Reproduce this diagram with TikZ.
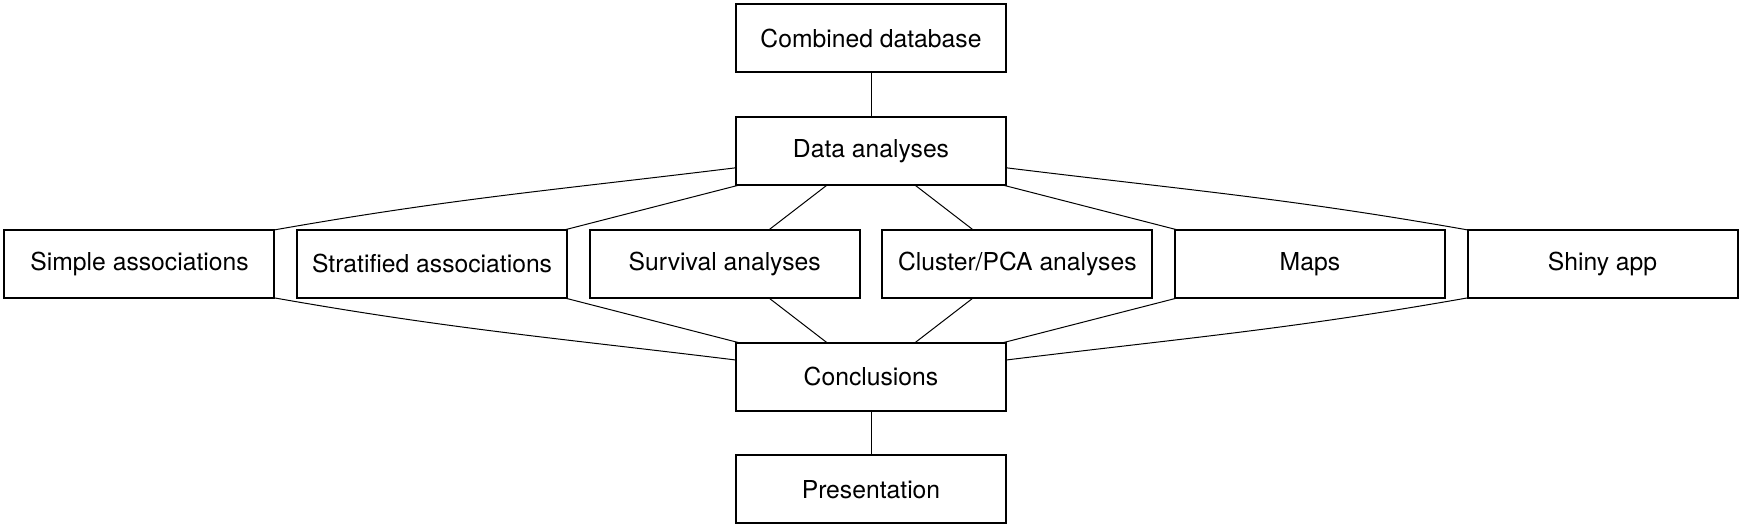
\documentclass[tikz,border=0pt]{standalone}
\usepackage{fontspec}
\setmainfont{TeX Gyre Heros}
\usetikzlibrary{positioning}
\tikzset{
    flowchart/.style={
        node distance=22.35pt and 11.3pt,
        % Stile per i blocchi (rettangolo)
        stepbox/.style={draw, rectangle, align=center,
                        minimum width=135pt, minimum height=34pt,
                        line width=1pt, inner sep=2pt, outer sep=0pt,
                        font=\fontsize{12.35}{14}\selectfont},
        % Stile per i collegamenti (linea sottile)
        link/.style={draw, line width=0.5pt}
    }
}

\begin{document}
\begin{tikzpicture}[flowchart]
    \node[stepbox] (combined) {Combined database};
    \node[stepbox, below=of combined] (analyses) {Data analyses};
    \node[stepbox, below=of analyses, xshift=-73.15pt] (survival) {Survival analyses};
    \node[stepbox, left=of survival] (stratified) {Stratified associations};
    \node[stepbox, left=of stratified] (simple) {Simple associations};
    \node[stepbox, right=of survival] (cluster) {Cluster/PCA analyses};
    \node[stepbox, right=of cluster] (maps) {Maps};
    \node[stepbox, right=of maps] (shiny) {Shiny app};
    \node[stepbox, below=of survival, xshift=73.15pt] (conclusions) {Conclusions};
    \node[stepbox, below=of conclusions] (presentation) {Presentation};

    % margini
    \coordinate (topleft) at (simple.west |- combined.north);
    \coordinate (bottomright) at (shiny.east |- presentation.south);
    \useasboundingbox ([shift={(-2.25pt,2.25pt)}]topleft) rectangle ([shift={(2.75pt,-2.75pt)}]bottomright);

    \draw[link] (combined) -- (analyses);
    \draw[link] (analyses) to[out=187, in=10] (simple.north east);
    \draw[link] (analyses) -- (stratified);
    \draw[link] (analyses) -- (survival);
    \draw[link] (analyses) -- (cluster);
    \draw[link] (analyses) -- (maps);
    \draw[link] (analyses) to[out=-7, in=170] (shiny.north west);

    \draw[link] (simple.south east) to[out=-10, in=173] (conclusions);
    \draw[link] (stratified) -- (conclusions);
    \draw[link] (survival) -- (conclusions);
    \draw[link] (cluster) -- (conclusions);
    \draw[link] (maps) -- (conclusions);
    \draw[link] (shiny.south west) to[out=190, in=7] (conclusions);
    \draw[link] (conclusions) -- (presentation);
\end{tikzpicture}
\end{document}
